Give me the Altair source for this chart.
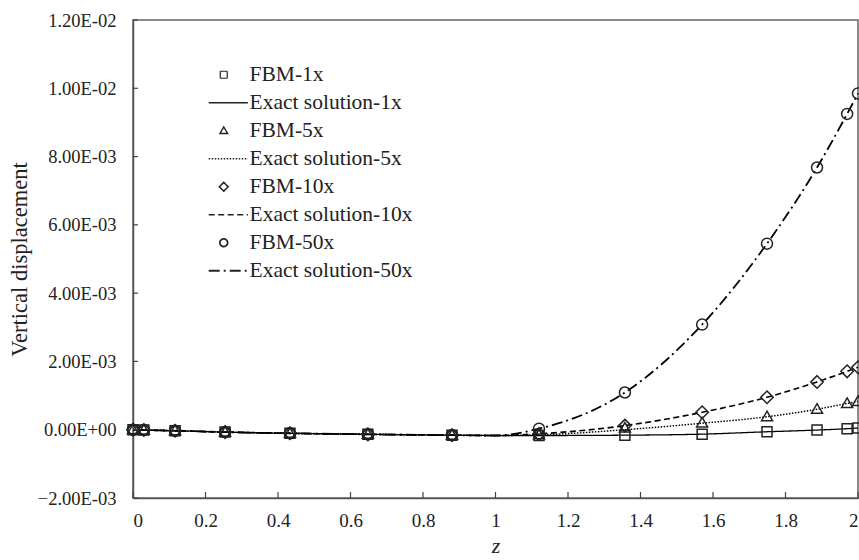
import altair as alt
import pandas as pd

# ---- data ----
# FBM sample points
z = [0, 0.03, 0.116, 0.254, 0.433, 0.648, 0.88, 1.12, 1.357, 1.57, 1.749, 1.887, 1.97, 2.0]
v1 = [0, -1e-5, -3e-5, -7e-5, -1.05e-4, -1.35e-4, -1.6e-4, -1.7e-4, -1.6e-4, -1.3e-4, -6e-5, -1e-5, 3e-5, 5e-5]
v5 = [0, -1e-5, -3e-5, -7e-5, -1.05e-4, -1.35e-4, -1.6e-4, -1.5e-4, 5e-5, 2.0e-4, 3.8e-4, 6.0e-4, 7.7e-4, 8.3e-4]
v10 = [0, -1e-5, -3e-5, -7e-5, -1.05e-4, -1.35e-4, -1.6e-4, -1.3e-4, 1.2e-4, 5.1e-4, 9.5e-4, 1.40e-3, 1.71e-3, 1.83e-3]
v50 = [0, -1e-5, -3e-5, -7e-5, -1.05e-4, -1.35e-4, -1.6e-4, 3e-5, 1.09e-3, 3.08e-3, 5.45e-3, 7.68e-3, 9.25e-3, 9.85e-3]

# exact-solution curves
z_exact = [0, 0.03, 0.116, 0.254, 0.433, 0.648, 0.88, 1.0, 1.12, 1.357, 1.57, 1.749, 1.887, 1.97, 2.0]
e1 = [0, -1e-5, -3e-5, -7e-5, -1.05e-4, -1.35e-4, -1.6e-4, -1.7e-4, -1.7e-4, -1.6e-4, -1.3e-4, -6e-5, -1e-5, 3e-5, 5e-5]
e5 = [0, -1e-5, -3e-5, -7e-5, -1.05e-4, -1.35e-4, -1.6e-4, -1.7e-4, -1.5e-4, 0, 1.9e-4, 3.8e-4, 6.0e-4, 7.7e-4, 8.3e-4]
e10 = [0, -1e-5, -3e-5, -7e-5, -1.05e-4, -1.35e-4, -1.6e-4, -1.7e-4, -1.2e-4, 1.2e-4, 5.1e-4, 9.5e-4, 1.40e-3, 1.71e-3, 1.83e-3]
e50 = [0, -1e-5, -3e-5, -7e-5, -1.05e-4, -1.35e-4, -1.6e-4, -1.7e-4, 3e-5, 1.09e-3, 3.08e-3, 5.45e-3, 7.68e-3, 9.25e-3, 9.85e-3]

multipliers = ["1x", "5x", "10x", "50x"]
fbm_values = [v1, v5, v10, v50]
exact_values = [e1, e5, e10, e50]
fbm_labels = ["FBM-" + m for m in multipliers]
exact_labels = ["Exact solution-" + m for m in multipliers]
legend_order = [lab for pair in zip(fbm_labels, exact_labels) for lab in pair]

x_ticks = [0, 0.2, 0.4, 0.6, 0.8, 1, 1.2, 1.4, 1.6, 1.8, 2]
y_ticks = [-0.002, 0, 0.002, 0.004, 0.006, 0.008, 0.010, 0.012]

# ---- tables ----
pts_rows, line_rows = [], []
for fl, vals in zip(fbm_labels, fbm_values):
    for zz, vv in zip(z, vals):
        pts_rows.append({"z": zz, "v": vv, "label": fl})
for el, vals in zip(exact_labels, exact_values):
    for zz, vv in zip(z_exact, vals):
        line_rows.append({"z": zz, "v": vv, "label": el})
pts = pd.DataFrame(pts_rows)
lines = pd.DataFrame(line_rows)
xt = pd.DataFrame({"z": x_ticks})
yt = pd.DataFrame({"v": y_ticks})

FONT = "Liberation Serif"
INK = "#222222"

# symbol paths (unit = sqrt(size)/2 px)
SQUARE = "M-1,-1H1V1H-1Z"
TRIANGLE = "M0,-1.1L1.1,0.8H-1.1Z"
DIAMOND = "M0,-1.25L1.25,0L0,1.25L-1.25,0Z"
CIRCLE = "M1.1,0A1.1,1.1,0,1,1,-1.1,0A1.1,1.1,0,1,1,1.1,0Z"
LINE = "M-4.3,0H6.9"
shape_range = [SQUARE, LINE, TRIANGLE, LINE, DIAMOND, LINE, CIRCLE, LINE]
dash_range = [[1, 0], [1, 0], [1, 0], [1.5, 1.5], [1, 0], [6, 3.5], [1, 0], [11, 4, 2, 4]]
width_range = [1.2, 1.8, 1.2, 1.4, 1.2, 1.9, 1.2, 1.9]

xscale = alt.Scale(domain=[0, 2], nice=False, zero=False)
yscale = alt.Scale(domain=[-0.002, 0.012], nice=False, zero=False)

legend = alt.Legend(
    title=None,
    orient="none",
    legendX=80,
    legendY=44,
    padding=0,
    labelFont=FONT,
    labelFontSize=21.5,
    labelColor=INK,
    labelLimit=400,
    labelOffset=15,
    rowPadding=5,
    symbolSize=49,
    symbolStrokeColor=INK,
    symbolStrokeWidth=1.3,
    symbolFillColor="transparent",
)

x_axis = alt.Axis(
    values=x_ticks, format="~g", title="z", grid=False, tickSize=0,
    labelFont=FONT, labelFontSize=19, labelColor=INK, labelPadding=13,
    titleFont=FONT, titleFontSize=22, titleFontStyle="italic", titleFontWeight="normal",
    titleColor=INK, titlePadding=5, domainColor="#555555", domainWidth=1.5,
)
y_axis = alt.Axis(
    values=y_ticks,
    labelExpr="datum.value == 0 ? '0.00E+00' : replace(upper(format(datum.value, '.2e')), 'E-', 'E-0')",
    title="Vertical displacement", grid=False, tickSize=0,
    labelFont=FONT, labelFontSize=18.5, labelColor=INK, labelPadding=17,
    titleFont=FONT, titleFontSize=22.5, titleFontWeight="normal", titleColor=INK,
    titlePadding=6, domainColor="#555555", domainWidth=1.5,
)

line_layer = alt.Chart(lines).mark_line(color="black", interpolate="monotone").encode(
    x=alt.X("z:Q", scale=xscale, axis=x_axis),
    y=alt.Y("v:Q", scale=yscale, axis=y_axis),
    strokeDash=alt.StrokeDash("label:N", scale=alt.Scale(domain=legend_order, range=dash_range), legend=legend),
    strokeWidth=alt.StrokeWidth("label:N", scale=alt.Scale(domain=legend_order, range=width_range), legend=None),
    detail="label:N",
)

point_layer = alt.Chart(pts).mark_point(filled=False, size=100, strokeWidth=1.5, color=INK, opacity=1).encode(
    x=alt.X("z:Q", scale=xscale, axis=x_axis),
    y=alt.Y("v:Q", scale=yscale, axis=y_axis),
    shape=alt.Shape("label:N", scale=alt.Scale(domain=legend_order, range=shape_range), legend=legend),
)

xtick_layer = alt.Chart(xt).mark_rule(color="#444444", strokeWidth=1.2).encode(
    x=alt.X("z:Q", scale=xscale, axis=x_axis),
    y=alt.value(478),
    y2=alt.value(472),
)
ytick_layer = alt.Chart(yt).mark_rule(color="#444444", strokeWidth=1.2).encode(
    y=alt.Y("v:Q", scale=yscale, axis=y_axis),
    x=alt.value(0),
    x2=alt.value(5),
)

chart = alt.layer(line_layer, point_layer, xtick_layer, ytick_layer).properties(
    width=725,
    height=478,
    autosize=alt.AutoSizeParams(type="none"),
    padding={"left": 133, "top": 20, "right": 1, "bottom": 62},
    background="white",
).configure_view(stroke="#666666", strokeWidth=1.5)

chart.save("out.html", embed_options={"renderer": "svg", "actions": False})
